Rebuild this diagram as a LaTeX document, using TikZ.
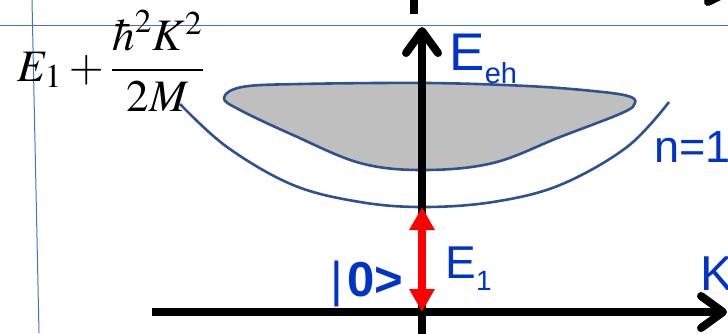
\documentclass[tikz,border=0pt]{standalone}
\usepackage{mathptmx}
\usepackage[no-math]{fontspec}
\setmainfont{Liberation Sans}
\usetikzlibrary{arrows.meta,positioning}
\definecolor{labelblue}{RGB}{0,51,204}
\definecolor{bandblue}{RGB}{47,82,143}
\definecolor{guideblue}{RGB}{68,114,196}
\definecolor{bandgray}{RGB}{191,191,191}

\begin{document}
\begin{tikzpicture}[x=0.5pt,y=-0.5pt,
    axis/.style={line width=4pt, -{Straight Barb[length=11pt,width=16pt,round]}},
    gap/.style={red, line width=3.8pt, {Triangle[length=11.5pt,width=12pt]}-{Triangle[length=11.5pt,width=12pt]}},
    band/.style={draw=bandblue, line width=1.3pt},
    guide/.style={draw=guideblue, line width=0.5pt},
    label/.style={text=labelblue, inner sep=0pt, anchor=base west}
]
    \useasboundingbox (0,0) rectangle (728,333);

    % slide guides
    \draw[guide] (0,25) -- (728,25);
    \draw[guide] (32,0) -- (39,333);

    % exciton band and n=1 branch
    \path[band, fill=bandgray] plot[smooth cycle, tension=0.6] coordinates {
        (224,98) (242,87) (300,84) (427,83) (527,86) (593,91) (628,96) (635,103)
        (622,113) (560,137) (493,163) (423,170) (360,163) (293,135) (240,110)};
    \draw[band] plot[smooth, tension=0.6] coordinates {
        (180,104) (227,147) (293,185) (360,202) (423,207) (493,202) (560,185) (627,147) (669,102)};

    % axes
    \coordinate (origin) at (422,312);
    \coordinate (ytop) at (422,27);
    \coordinate (ybot) at (422,340);
    \coordinate (xleft) at (152,312);
    \coordinate (xright) at (727,312);
    \coordinate (e1top) at (422,207);
    \draw[axis] (ybot) -- (ytop);
    \draw[axis] (xleft) -- (xright);
    \draw[line width=4pt] (414,-5) -- (414,14);
    \draw[line width=4pt, line cap=round] (708,2) -- (728,-8);

    % gap E1
    \draw[gap] (origin) -- (e1top);

    % labels
    \node[inner sep=0pt, anchor=west] (dispersion) at (17,61)
        {\fontsize{22.5}{26}\selectfont$\displaystyle E_1+\frac{\hbar^2K^2}{2M}$};
    \node[label, font=\fontsize{26.5}{30}\selectfont] (eeh) at (449,70)
        {E\raisebox{-6.5pt}{\fontsize{14.5}{16}\selectfont eh}};
    \node[label, font=\fontsize{22.5}{26}\selectfont] (nlabel) at (654,162) {n=1};
    \node[label, font=\fontsize{24.5}{28}\selectfont] (klabel) at (700,290) {K};
    \node[label, font=\fontsize{23}{26}\selectfont] (eone) at (445,278)
        {E\raisebox{-6pt}{\fontsize{14}{16}\selectfont 1}};
    \node[label, font=\fontsize{24.5}{28}\selectfont] (ground) at (330,296)
        {|\hspace{2pt}\textbf{0>}};

\end{tikzpicture}
\end{document}
